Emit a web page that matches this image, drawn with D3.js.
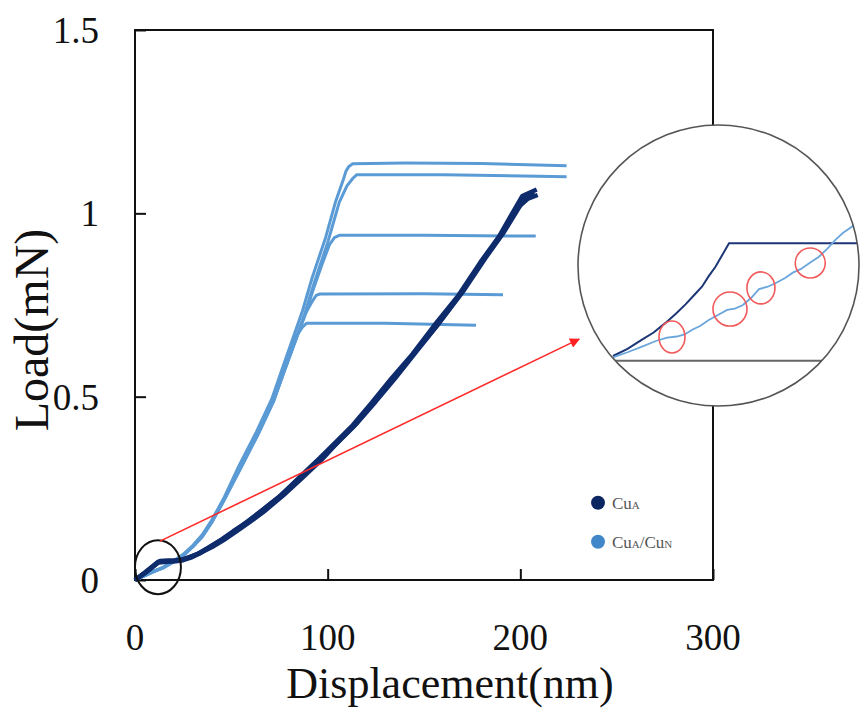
<!DOCTYPE html>
<html><head><meta charset="utf-8">
<script src="https://cdn.jsdelivr.net/npm/d3@7"></script>
<style>
html,body{margin:0;padding:0;background:#fff;}
svg{display:block;}
text{font-family:"Liberation Serif","Times New Roman",serif;}
</style></head>
<body><svg id="c" width="865" height="711"></svg>
<script>
// ---------- DATA ----------
const xTicks = [0, 100, 200, 300];
const yTicks = [0, 0.5, 1, 1.5];
const yTickLabels = ["0", "0.5", "1", "1.5"];
const xTitle = "Displacement(nm)";
const yTitle = "Load(mN)";
const legendItems = [{base:"Cu", sub:"A", rest:[]}, {base:"Cu", sub:"A", rest:[["/Cu",""],["","N"]]}];

// CuA (dark) – several overlapping runs
const cuA1_x = [0,4,8,12,16,20,24,28,32,38,44,51,58,65,75,85,95,105,114,124,134,145,156,169,181,190,199,204,209];
const cuA1_y = [0,0.016,0.033,0.05,0.051,0.052,0.055,0.062,0.07,0.088,0.107,0.133,0.157,0.186,0.228,0.276,0.326,0.374,0.421,0.486,0.546,0.619,0.689,0.781,0.876,0.94,1.017,1.04,1.05];
const cuA2_x = [0,4,8,12,17,21,25,29,33,39,45,52,59,66,76,86,96,104,113,123,133,144,155,168,180,189,198,201,208.5];
const cuA2_y = [0,0.015,0.031,0.048,0.05,0.051,0.054,0.061,0.071,0.09,0.11,0.135,0.162,0.19,0.232,0.283,0.333,0.375,0.422,0.484,0.549,0.616,0.692,0.777,0.872,0.937,1.02,1.047,1.065];
const cuA3_x = [0,5,9,13,17,21,25,29,34,40,46,53,60,67,77,87,97,106,115,125,135,146,157,170,182,191,200,203,207];
const cuA3_y = [0,0.018,0.035,0.052,0.053,0.053,0.056,0.064,0.074,0.09,0.109,0.134,0.16,0.187,0.231,0.279,0.329,0.38,0.427,0.487,0.55,0.623,0.695,0.785,0.879,0.945,1.022,1.045,1.058];

// CuA/CuN (light) – five runs with different peak loads
const cuN1_x = [0,5,10,14.5,20,25,30,35,40,46,54.7,63.5,71.3,77,82.3,87,89,130,177];
const cuN1_y = [0,0.012,0.024,0.033,0.05,0.068,0.092,0.12,0.16,0.218,0.31,0.4,0.49,0.58,0.654,0.69,0.70,0.70,0.695];
const cuN2_x = [0,5,10,15,20,25,30,35,40,46,55,64,72,78,83,88,92,94,96,150,191];
const cuN2_y = [0,0.011,0.023,0.034,0.049,0.066,0.09,0.118,0.158,0.215,0.306,0.398,0.488,0.578,0.65,0.722,0.76,0.776,0.78,0.781,0.778];
const cuN3_x = [0,5,10,15,20,25,30,35,40,46,55,64,72,78,83,88,93,97,101,103.5,106,150,208];
const cuN3_y = [0,0.012,0.024,0.035,0.051,0.068,0.093,0.122,0.162,0.218,0.31,0.402,0.49,0.576,0.648,0.718,0.8,0.86,0.915,0.934,0.94,0.94,0.938];
const cuN4_x = [0,5,10,15,20,25,30,35,40,46,55,64,72,78,83,88,93,100,106,110,113,115,160,224];
const cuN4_y = [0,0.012,0.024,0.034,0.05,0.067,0.091,0.12,0.16,0.216,0.308,0.4,0.49,0.58,0.652,0.724,0.81,0.92,1.03,1.075,1.095,1.105,1.105,1.10];
const cuN5_x = [0,5,10,15,20,25,30,35,40,46,54,63,71,77,82,87,92,99,104,108,109.5,111,113,140,180,224];
const cuN5_y = [0,0.013,0.025,0.036,0.052,0.07,0.094,0.124,0.165,0.222,0.312,0.404,0.494,0.585,0.66,0.735,0.825,0.935,1.03,1.09,1.115,1.128,1.135,1.137,1.136,1.13];

// inset (magnified start of the curves, nm / mN)
const insetA_x = [0,1.5,3,4.2,5.4,6.5,7.5,8.4,9.2,9.9,10.6,11.3,12,26.5];
const insetA_y = [0.002,0.005,0.009,0.012,0.016,0.02,0.024,0.028,0.0315,0.036,0.04,0.045,0.05,0.05];
const insetN_x = [0,1.5,3,4.5,5.6,6.6,7.4,8.2,9,9.9,11,11.8,12.6,13.4,14.3,15.1,16,16.8,17.8,18.6,19.4,20.4,21.3,22.2,23,23.8,24.7,25.9,26.5];
const insetN_y = [0.0014,0.0036,0.006,0.0085,0.0098,0.0103,0.0112,0.0132,0.0148,0.0173,0.0198,0.0216,0.0222,0.0236,0.0268,0.0305,0.0315,0.033,0.0352,0.0375,0.039,0.0418,0.0443,0.0478,0.0515,0.0545,0.057,0.0642,0.067];
const popIn_x = [6.1, 12.1, 15.3, 20.4];
const popIn_y = [0.0101, 0.022, 0.031, 0.0416];

// annotation anchors (main-plot data units)
const zoomSpot = {x: 11.9, y: 0.035};
const arrowFrom = {x: 13, y: 0.106};
const arrowTo = {x: 230.5, y: 0.657};

// ---------- DRAW ----------
const svg = d3.select("#c");
const x = d3.scaleLinear().domain([0, 300]).range([135, 713]);
const y = d3.scaleLinear().domain([0, 1.5]).range([580, 30]);

const darkCol = "#0e2b6c", lightCol = "#5b9bd5";
const zip = (xs, ys) => xs.map((v, i) => [v, ys[i]]);
const line = d3.line().x(d => x(d[0])).y(d => y(d[1]));

// frame
svg.append("rect").attr("x", x(0)).attr("y", y(1.5)).attr("width", x(300) - x(0)).attr("height", y(0) - y(1.5))
  .attr("fill", "none").attr("stroke", "#111").attr("stroke-width", 2);

// axes (inward ticks)
const gx = svg.append("g").attr("transform", `translate(0,${y(0)})`)
  .call(d3.axisTop(x).tickValues(xTicks).tickSize(11).tickFormat(""));
gx.select(".domain").remove();
gx.selectAll("line").attr("stroke", "#111").attr("stroke-width", 2);
const gy = svg.append("g").attr("transform", `translate(${x(0)},0)`)
  .call(d3.axisRight(y).tickValues(yTicks).tickSize(11).tickFormat(""));
gy.select(".domain").remove();
gy.selectAll("line").attr("stroke", "#111").attr("stroke-width", 2);

// tick labels
svg.append("g").selectAll("text").data(xTicks).join("text")
  .attr("x", d => x(d)).attr("y", 650).attr("text-anchor", "middle")
  .attr("font-size", 37).attr("fill", "#111").text(d => d);
svg.append("g").selectAll("text").data(yTicks).join("text")
  .attr("x", 99).attr("y", d => y(d)).attr("dy", "0.35em").attr("text-anchor", "end")
  .attr("font-size", 37).attr("fill", "#111").text((d, i) => yTickLabels[i]);

// titles
svg.append("text").attr("x", 450).attr("y", 698).attr("text-anchor", "middle")
  .attr("font-size", 44).attr("fill", "#111").text(xTitle);
svg.append("text").attr("transform", "translate(48,330) rotate(-90)").attr("text-anchor", "middle")
  .attr("font-size", 48).attr("fill", "#111").text(yTitle);

// curves
const lightRuns = [zip(cuN1_x, cuN1_y), zip(cuN2_x, cuN2_y), zip(cuN3_x, cuN3_y), zip(cuN4_x, cuN4_y), zip(cuN5_x, cuN5_y)];
svg.append("g").selectAll("path").data(lightRuns).join("path")
  .attr("d", line).attr("fill", "none").attr("stroke", lightCol).attr("stroke-width", 3)
  .attr("stroke-linejoin", "round");
const darkRuns = [zip(cuA1_x, cuA1_y), zip(cuA2_x, cuA2_y), zip(cuA3_x, cuA3_y)];
svg.append("g").selectAll("path").data(darkRuns).join("path")
  .attr("d", line).attr("fill", "none").attr("stroke", darkCol).attr("stroke-width", 4.5)
  .attr("stroke-linejoin", "round");

// zoom ellipse + arrow
svg.append("ellipse").attr("cx", x(zoomSpot.x)).attr("cy", y(zoomSpot.y)).attr("rx", 23).attr("ry", 27)
  .attr("fill", "none").attr("stroke", "#111").attr("stroke-width", 2);
const defs = svg.append("defs");
defs.append("marker").attr("id", "ah").attr("viewBox", "0 0 10 10").attr("refX", 9).attr("refY", 5)
  .attr("markerWidth", 12).attr("markerHeight", 10).attr("markerUnits", "userSpaceOnUse").attr("orient", "auto")
  .append("path").attr("d", "M0,0 L10,5 L0,10 Z").attr("fill", "#ff2020");
svg.append("line").attr("x1", x(arrowFrom.x)).attr("y1", y(arrowFrom.y)).attr("x2", x(arrowTo.x)).attr("y2", y(arrowTo.y))
  .attr("stroke", "#ff2a2a").attr("stroke-width", 1.6).attr("marker-end", "url(#ah)");

// legend
const leg = svg.append("g");
const legCols = ["#0b2660", "#3f87c9"];
const legY = [502.7, 541.7];
legendItems.forEach((it, i) => {
  leg.append("circle").attr("cx", 598).attr("cy", legY[i]).attr("r", 7).attr("fill", legCols[i]);
  const t = leg.append("text").attr("x", 612).attr("y", legY[i] + 6).attr("font-size", 17).attr("fill", "#555");
  t.append("tspan").text(it.base);
  t.append("tspan").attr("font-size", 11).text(it.sub);
  it.rest.forEach(r => {
    if (r[0]) t.append("tspan").attr("font-size", 17).text(r[0]);
    if (r[1]) t.append("tspan").attr("font-size", 11).text(r[1]);
  });
});

// inset
const cx = 718.5, cy = 265.5, cr = 140.5;
const ix = d3.scaleLinear().domain([0, 26]).range([613, 864.4]);
const iy = d3.scaleLinear().domain([0, 0.05]).range([360.7, 243.3]);
const iline = d3.line().x(d => ix(d[0])).y(d => iy(d[1]));
defs.append("clipPath").attr("id", "ic").append("circle").attr("cx", cx).attr("cy", cy).attr("r", cr);
svg.append("circle").attr("cx", cx).attr("cy", cy).attr("r", cr).attr("fill", "#fff");
const ig = svg.append("g").attr("clip-path", "url(#ic)");
ig.append("line").attr("x1", ix(0)).attr("x2", 832).attr("y1", iy(0)).attr("y2", iy(0))
  .attr("stroke", "#666").attr("stroke-width", 2);
ig.append("path").attr("d", iline(zip(insetA_x, insetA_y))).attr("fill", "none").attr("stroke", "#1d3677").attr("stroke-width", 2);
ig.append("path").attr("d", iline(zip(insetN_x, insetN_y))).attr("fill", "none").attr("stroke", "#6aa6dc").attr("stroke-width", 1.8);
const popR = [[13, 16], [17, 17], [14, 16], [15, 15]];
ig.selectAll("ellipse").data(popIn_x).join("ellipse")
  .attr("cx", d => ix(d)).attr("cy", (d, i) => iy(popIn_y[i]))
  .attr("rx", (d, i) => popR[i][0]).attr("ry", (d, i) => popR[i][1])
  .attr("fill", "none").attr("stroke", "#f05a5a").attr("stroke-width", 1.6);
svg.append("circle").attr("cx", cx).attr("cy", cy).attr("r", cr).attr("fill", "none").attr("stroke", "#555").attr("stroke-width", 1.6);
</script></body></html>
